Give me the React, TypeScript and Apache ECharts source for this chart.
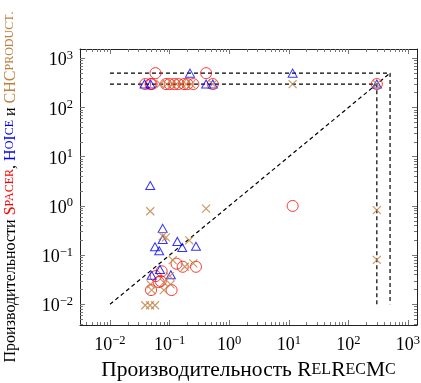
import React, { useEffect, useRef } from "react";
import * as echarts from "echarts";

// ---- axis extents (log10 space edges) and tick values ----
const X_LOG_MIN = -2.503;
const X_LOG_MAX = 3.151;
const Y_LOG_MIN = -2.42;
const Y_LOG_MAX = 3.19;
const xMajorTicks = [0.01, 0.1, 1, 10, 100, 1000];
const yMajorTicks = [0.01, 0.1, 1, 10, 100, 1000];
const decades = [0.001, 0.01, 0.1, 1, 10, 100, 1000];
const minorMultipliers = [2, 3, 4, 5, 6, 7, 8, 9];

// ---- data: [RelRecMc time, other tool time] ----
const spacerPoints = [
  [0.039, 300], [0.048, 300], [0.05, 300], [0.087, 300], [0.1, 300], [0.12, 300],
  [0.14, 300], [0.175, 300], [0.2, 300], [0.25, 300], [0.53, 300], [300, 300],
  [0.058, 500], [0.41, 500],
  [11.6, 1.0],
  [0.131, 0.067], [0.166, 0.058], [0.277, 0.058], [0.0736, 0.047], [0.0585, 0.0375],
  [0.071, 0.0297], [0.0657, 0.0283], [0.0488, 0.0195], [0.108, 0.0195],
];
const hoicePoints = [
  [0.038, 300], [0.048, 300], [0.41, 300], [0.53, 300], [300, 300],
  [0.22, 500], [11.6, 500],
  [0.0474, 2.6], [0.0766, 0.35], [0.0766, 0.208], [0.0569, 0.148], [0.067, 0.123],
  [0.135, 0.19], [0.163, 0.143], [0.277, 0.152], [0.069, 0.051], [0.05, 0.039], [0.105, 0.04],
];
const chcPoints = [
  [0.07, 300], [0.09, 300], [0.11, 300], [0.13, 300], [0.16, 300], [0.19, 300],
  [0.23, 300], [0.53, 300], [11.6, 300], [300, 300],
  [300, 0.82], [300, 0.08],
  [0.0474, 0.78], [0.41, 0.885], [0.0766, 0.243], [0.087, 0.23], [0.214, 0.2],
  [0.113, 0.079], [0.18, 0.058], [0.25, 0.068], [0.101, 0.0375], [0.08, 0.028],
  [0.104, 0.0255], [0.048, 0.0255], [0.05, 0.0195], [0.08, 0.0195],
  [0.039, 0.0096], [0.047, 0.0096], [0.057, 0.0096],
];
// reference lines
const diagonalLine = [[0.01, 0.01], [500, 500]];
const limit500Line = [[0.01, 500], [500, 500], [500, 0.01]];
const limit300Line = [[0.01, 300], [300, 300], [300, 0.01]];

const FONT = '"Liberation Serif", "DejaVu Serif", serif';
const RED = "#ff0000";
const BLUE = "#0000ff";
const BROWN = "#bf8040";

const minorTicks: number[] = [];
decades.forEach((d) => minorMultipliers.forEach((m) => minorTicks.push(+(d * m).toPrecision(3))));

const labelRich = {
  b: { fontFamily: FONT, fontSize: 18, lineHeight: 20, color: "#000", verticalAlign: "bottom" },
  s: { fontFamily: FONT, fontSize: 12.5, lineHeight: 12, color: "#000", verticalAlign: "top" },
};

function fmt(v: number) {
  const e = Math.round(Math.log10(v));
  return `{b|10}{s|${e < 0 ? "\u2212" + -e : e}}`;
}

function makeAxis(
  dim: "x" | "y",
  position: string,
  major: boolean,
  withLine: boolean,
  withLabels: boolean,
  extra: any = {}
) {
  const lmin = dim === "x" ? X_LOG_MIN : Y_LOG_MIN;
  const lmax = dim === "x" ? X_LOG_MAX : Y_LOG_MAX;
  const majors = dim === "x" ? xMajorTicks : yMajorTicks;
  return {
    type: "log",
    logBase: 10,
    gridIndex: 0,
    position,
    min: Math.pow(10, lmin),
    max: Math.pow(10, lmax),
    axisLine: { show: withLine, onZero: false, lineStyle: { color: "#222", width: 1 } },
    axisTick: {
      show: true,
      inside: true,
      length: major ? 5 : 3,
      customValues: major ? majors : minorTicks,
      lineStyle: { color: "#777", width: 1 },
    },
    axisLabel: withLabels
      ? {
          show: true,
          customValues: majors,
          formatter: fmt,
          rich: labelRich,
          margin: dim === "x" ? 8 : 7,
        }
      : { show: false },
    minorTick: { show: false },
    splitLine: { show: false },
    ...extra,
  };
}

export default function App() {
  const ref = useRef<HTMLDivElement>(null);
  useEffect(() => {
    if (!ref.current) return;
    const chart = echarts.init(ref.current, null, { renderer: "svg" });
    const xName =
      "{n|Производительность }{c|R}{s|EL}{c|R}{s|EC}{c|M}{s|C}";
    const yName =
      "{k|Производительности }{rb|S}{rs|PACER}{k|, }{bb|H}{bs|O}{bb|I}{bs|CE}{k| и }{cb|CHC}{cs|PRODUCT}{cs|.}";
    const base = { fontFamily: FONT };
    chart.setOption({
      animation: false,
      grid: {
        left: 80,
        right: 4,
        top: 49,
        bottom: 58,
        containLabel: false,
        outerBoundsMode: "none",
      },
      xAxis: [
        makeAxis("x", "bottom", true, true, true, {
          name: xName,
          nameLocation: "middle",
          nameGap: 28,
          nameTextStyle: {
            ...base,
            fontSize: 21.5,
            color: "#000",
            rich: {
              n: { ...base, fontSize: 21.5, color: "#000" },
              c: { ...base, fontSize: 21.5, color: "#000" },
              s: { ...base, fontSize: 16, color: "#000" },
            },
          },
        }),
        makeAxis("x", "bottom", false, false, false),
        makeAxis("x", "top", true, true, false),
        makeAxis("x", "top", false, false, false),
      ],
      yAxis: [
        makeAxis("y", "left", true, true, true, {
          name: yName,
          nameLocation: "middle",
          nameRotate: 90,
          nameGap: 63,
          nameTextStyle: {
            ...base,
            fontSize: 16,
            color: "#000",
            rich: {
              k: { ...base, fontSize: 16, color: "#000" },
              rb: { ...base, fontSize: 16, color: RED },
              rs: { ...base, fontSize: 12, color: RED },
              bb: { ...base, fontSize: 16, color: BLUE },
              bs: { ...base, fontSize: 12, color: BLUE },
              cb: { ...base, fontSize: 16, color: BROWN },
              cs: { ...base, fontSize: 12, color: BROWN },
            },
          },
        }),
        makeAxis("y", "left", false, false, false),
        makeAxis("y", "right", true, true, false),
        makeAxis("y", "right", false, false, false),
      ],
      series: [
        ...[diagonalLine, limit500Line, limit300Line].map((d) => ({
          type: "line",
          xAxisIndex: 0,
          yAxisIndex: 0,
          data: d,
          symbol: "none",
          silent: true,
          lineStyle: { color: "#000", width: 1.2, type: [4, 3] },
          z: 1,
        })),
        {
          type: "scatter",
          name: "Spacer",
          xAxisIndex: 0,
          yAxisIndex: 0,
          data: spacerPoints,
          symbol: "circle",
          symbolSize: 11,
          silent: true,
          itemStyle: { color: "transparent", borderColor: RED, borderWidth: 1 },
          z: 2,
        },
        {
          type: "scatter",
          name: "HoIce",
          xAxisIndex: 0,
          yAxisIndex: 0,
          data: hoicePoints,
          symbol: "triangle",
          symbolSize: [9, 8],
          silent: true,
          itemStyle: { color: "transparent", borderColor: BLUE, borderWidth: 1 },
          z: 3,
        },
        {
          type: "scatter",
          name: "CHCproduct",
          xAxisIndex: 0,
          yAxisIndex: 0,
          data: chcPoints,
          symbol: "path://M0 0L10 10M10 0L0 10",
          symbolSize: 8,
          silent: true,
          itemStyle: { color: "transparent", borderColor: BROWN, borderWidth: 1.2 },
          z: 4,
        },
      ],
    });
    return () => chart.dispose();
  }, []);
  return (
    <div
      ref={ref}
      style={{ position: "fixed", left: 0, top: 0, width: 421, height: 383 }}
    />
  );
}
